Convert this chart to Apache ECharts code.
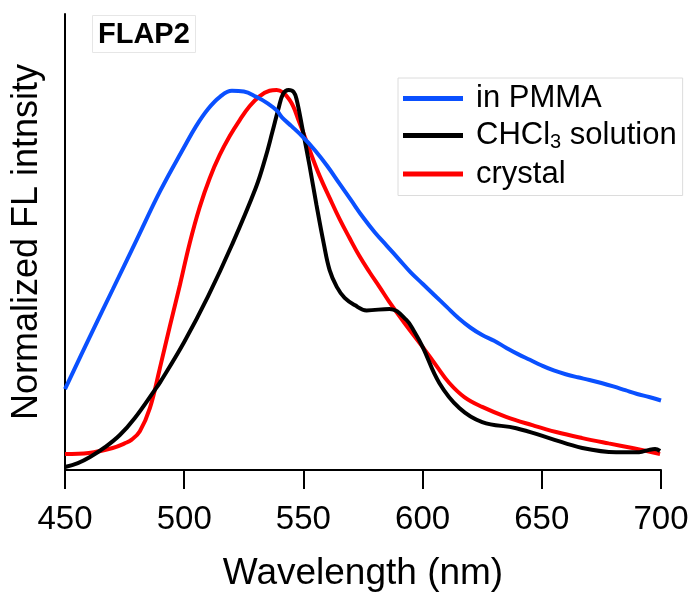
<!DOCTYPE html>
<html>
<head>
<meta charset="utf-8">
<script src="https://cdn.jsdelivr.net/npm/echarts@6/dist/echarts.min.js"></script>
<style>
  html, body { margin: 0; padding: 0; background: #fff; }
  #chart { width: 697px; height: 593px; }
</style>
</head>
<body>
<div id="chart"></div>
<script>
// wavelength (nm) / normalized intensity
var pmmaWl  = [450, 460, 470, 480, 490, 500, 505, 510, 515, 520, 525, 530, 535, 539, 541, 545, 550, 555, 560, 565, 570, 575, 580, 585, 590, 595, 600, 605, 610, 615, 620, 625, 630, 635, 640, 645, 650, 655, 660, 665, 670, 675, 680, 685, 690, 695, 700]
var pmmaVal = [0.213, 0.345, 0.475, 0.605, 0.735, 0.85, 0.905, 0.95, 0.982, 0.998, 0.996, 0.983, 0.965, 0.945, 0.928, 0.905, 0.875, 0.84, 0.8, 0.755, 0.71, 0.665, 0.625, 0.59, 0.555, 0.52, 0.49, 0.46, 0.43, 0.4, 0.375, 0.355, 0.34, 0.322, 0.305, 0.29, 0.275, 0.262, 0.252, 0.244, 0.237, 0.229, 0.22, 0.21, 0.2, 0.192, 0.183]

var chclWl  = [450, 455.4, 460.5, 466.8, 473, 479.3, 487.7, 490, 500, 510, 520, 530, 534, 537, 539.5, 541.5, 543.8, 545.9, 547.2, 549.7, 552.6, 555.5, 558.5, 561, 564, 567.3, 571.5, 576.5, 586.1, 593.2, 596.6, 600, 607, 615.4, 625, 639.3, 653.1, 667, 681.2, 690.8, 695, 697.5, 699.6]
var chclVal = [0.008, 0.018, 0.034, 0.06, 0.092, 0.137, 0.211, 0.232, 0.337, 0.457, 0.592, 0.742, 0.82, 0.89, 0.95, 0.99, 1.0, 0.995, 0.974, 0.895, 0.8, 0.697, 0.597, 0.526, 0.482, 0.453, 0.434, 0.42, 0.424, 0.395, 0.363, 0.324, 0.229, 0.163, 0.126, 0.11, 0.084, 0.058, 0.047, 0.047, 0.053, 0.055, 0.05]

var crysWl  = [450, 460, 470, 475, 478, 481.4, 485.6, 489.8, 494, 498.2, 502.3, 506.5, 510.7, 514.9, 519.1, 523.3, 527.5, 531.7, 535.8, 538.8, 544.2, 548.4, 552.6, 556.8, 561, 565.2, 569.3, 573.5, 577.7, 581.9, 586.1, 592.4, 600, 605.8, 611.2, 617.5, 625, 635, 646, 656, 667, 678, 688, 694, 699.6]
var crysVal = [0.042, 0.045, 0.058, 0.07, 0.08, 0.102, 0.163, 0.268, 0.379, 0.487, 0.597, 0.692, 0.768, 0.829, 0.879, 0.921, 0.958, 0.984, 0.998, 1.0, 0.974, 0.913, 0.842, 0.774, 0.716, 0.66, 0.611, 0.563, 0.521, 0.482, 0.442, 0.387, 0.324, 0.274, 0.229, 0.192, 0.166, 0.14, 0.118, 0.1, 0.084, 0.07, 0.058, 0.05, 0.042]

var legendNames = ['in PMMA', 'CHCl3 solution', 'crystal']
var font = '"Liberation Sans", Arial, sans-serif'

function pairs(xs, ys) {
    var out = []
    for (var i = 0; i < xs.length; i++) out.push([xs[i], ys[i]])
    return out
}

function lineSeries(name, color, xs, ys) {
    return {
        name: name,
        type: 'line',
        smooth: 0.4,
        showSymbol: false,
        color: color,
        lineStyle: { color: color, width: 4 },
        data: pairs(xs, ys)
    }
}

var myChart = echarts.init(document.getElementById('chart'))
var option = {
    animation: false,
    title: {
        text: 'FLAP2',
        left: 92,
        top: 15,
        padding: [5, 6, 4, 6],
        borderColor: '#e6e6e6',
        borderWidth: 1,
        textStyle: { fontFamily: font, fontWeight: 'bold', fontSize: 29, color: '#000' }
    },
    legend: {
        orient: 'vertical',
        left: 398,
        top: 78,
        data: legendNames,
        icon: 'rect',
        itemWidth: 60,
        itemHeight: 5,
        itemGap: 6,
        padding: [5, 6, 6, 5],
        borderColor: '#dcdcdc',
        borderWidth: 1,
        backgroundColor: '#fff',
        formatter: function(n) { return n.replace('CHCl3', 'CHCl{sub|3}') },
        textStyle: {
            fontFamily: font, fontSize: 31, color: '#000', padding: [0, 0, 0, 8],
            rich: { sub: { fontFamily: font, fontSize: 20, color: '#000', padding: [14, 0, 0, 0] } }
        }
    },
    grid: { left: 65, right: 36, top: 14, bottom: 123, outerBoundsMode: 'none' },
    xAxis: {
        type: 'value',
        min: 450,
        max: 700,
        interval: 50,
        name: 'Wavelength (nm)',
        nameLocation: 'middle',
        nameGap: 85,
        nameTextStyle: { fontFamily: font, fontSize: 37, color: '#000' },
        axisLine: { lineStyle: { color: '#000', width: 2 } },
        axisTick: { length: 19, lineStyle: { color: '#000', width: 2 } },
        axisLabel: { fontFamily: font, fontSize: 33, color: '#000', margin: 33 },
        splitLine: { show: false }
    },
    yAxis: {
        type: 'value',
        min: 0,
        max: 1.2,
        name: 'Normalized FL intnsity',
        nameLocation: 'middle',
        nameGap: 20,
        nameTextStyle: { fontFamily: font, fontSize: 36, color: '#000' },
        axisLine: { show: true, lineStyle: { color: '#000', width: 2 } },
        axisTick: { show: false },
        axisLabel: { show: false },
        splitLine: { show: false }
    },
    // drawn bottom to top: red, black, blue
    series: [
        lineSeries('crystal', '#ff0000', crysWl, crysVal),
        lineSeries('CHCl3 solution', '#000000', chclWl, chclVal),
        lineSeries('in PMMA', '#0a50ff', pmmaWl, pmmaVal)
    ]
}
myChart.setOption(option)
</script>
</body>
</html>
